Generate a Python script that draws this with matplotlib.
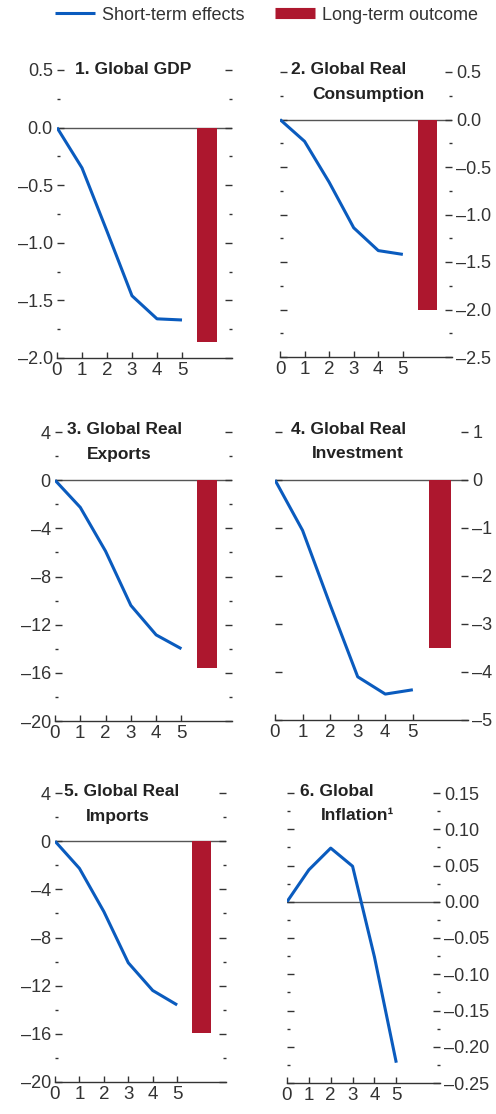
import matplotlib
matplotlib.use('Agg')
import matplotlib.pyplot as plt
from matplotlib.lines import Line2D
from matplotlib.ticker import FuncFormatter
import numpy as np

plt.rcParams['font.family'] = ['Liberation Sans', 'DejaVu Sans']

# Horizon (years) and values
years = [0, 1, 2, 3, 4, 5]
long_pos = 6

gdp = [0.0, -0.35, -0.90, -1.46, -1.66, -1.67]
gdp_long = -1.86

consumption = [0.0, -0.23, -0.66, -1.14, -1.38, -1.42]
consumption_long = -2.0

exports = [0.0, -2.26, -5.9, -10.4, -12.85, -14.0]
exports_long = -15.6

investment = [0.0, -1.05, -2.6, -4.1, -4.46, -4.37]
investment_long = -3.5

imports = [0.0, -2.26, -5.85, -10.1, -12.4, -13.6]
imports_long = -15.9

inflation = [0.0, 0.044, 0.074, 0.049, -0.076, -0.222]
inflation_long = -0.001

BLUE = '#0A5BBE'
RED = '#AD172E'
TXT = '#333333'

W, H = 496, 1114
fig = plt.figure(figsize=(W / 100, H / 100), dpi=100)


def fmt(decimals):
    def f(v, pos):
        s = f'{v:.{decimals}f}'
        if float(s) == 0:
            return s.lstrip('-')
        return s.replace('-', '\u2013')
    return f


def add_panel(box, side, short, long_val, ylim, major, minor, decimals):
    x0, y0, x1, y1 = box
    ax = fig.add_axes([x0 / W, 1 - y1 / H, (x1 - x0) / W, (y1 - y0) / H])
    ax.plot(years, short, color=BLUE, lw=2.2, solid_capstyle='butt', zorder=3)
    ax.bar(long_pos, long_val, width=0.8, color=RED, zorder=2)
    ax.axhline(0, color='#555555', lw=1.0, zorder=1)
    ax.set_xlim(0, 7)
    ax.set_ylim(*ylim)
    ax.set_xticks(years)
    ax.set_yticks(np.arange(ylim[0], ylim[1] + major / 2, major))
    if minor:
        ax.set_yticks(np.arange(ylim[0], ylim[1] + minor / 2, minor), minor=True)
    ax.yaxis.set_major_formatter(FuncFormatter(fmt(decimals)))
    for s in ['left', 'right', 'top']:
        ax.spines[s].set_visible(False)
    ax.spines['bottom'].set_color('#333333')
    ax.spines['bottom'].set_linewidth(1.0)
    ax.tick_params(axis='x', direction='in', length=4, width=1, color='#333333',
                   labelsize=13.5, labelcolor=TXT, pad=3)
    ax.tick_params(axis='y', which='major', direction='in', length=5, width=1,
                   color='#333333', left=True, right=True, labelsize=13,
                   labelcolor=TXT, pad=3,
                   labelleft=(side == 'left'), labelright=(side == 'right'))
    ax.tick_params(axis='y', which='minor', direction='in', length=2.5, width=1,
                   color='#333333', left=True, right=True)
    return ax


add_panel((57, 70, 232, 358), 'left', gdp, gdp_long, (-2.0, 0.5), 0.5, 0.25, 1)
add_panel((280, 72, 452, 357), 'right', consumption, consumption_long, (-2.5, 0.5), 0.5, 0.25, 1)
add_panel((55, 432, 232, 721), 'left', exports, exports_long, (-20, 4), 4, 2, 0)
add_panel((275, 432, 468, 720), 'right', investment, investment_long, (-5, 1), 1, None, 0)
add_panel((55, 793, 226, 1082), 'left', imports, imports_long, (-20, 4), 4, 2, 0)
add_panel((287, 793, 440, 1083), 'right', inflation, inflation_long, (-0.25, 0.15), 0.05, 0.025, 2)

# panel titles (pixel positions of left edge, vertical centre)
titles = [
    ('1. Global GDP', 75, 70),
    ('2. Global Real', 291, 69), ('Consumption', 312, 94),
    ('3. Global Real', 67, 430), ('Exports', 87, 454),
    ('4. Global Real', 291, 430), ('Investment', 312, 454),
    ('5. Global Real', 64, 792), ('Imports', 86, 816),
    ('6. Global', 300, 792), ('Inflation\u00b9', 321, 816),
]
for t, x, y in titles:
    fig.text(x / W, 1 - y / H, t, ha='left', va='center', fontsize=12.5,
             fontweight='bold', color='#222222')

handles = [Line2D([], [], color=BLUE, lw=2.2, solid_capstyle='butt'),
           Line2D([], [], color=RED, lw=8, solid_capstyle='butt')]
fig.legend(handles, ['Short-term effects', 'Long-term outcome'],
           loc='center', bbox_to_anchor=(0.537, 1 - 15 / H), ncol=2, frameon=False,
           fontsize=13, handlelength=2.2, handletextpad=0.4, columnspacing=1.7,
           labelcolor=TXT)

fig.savefig('out.png', dpi=100)
